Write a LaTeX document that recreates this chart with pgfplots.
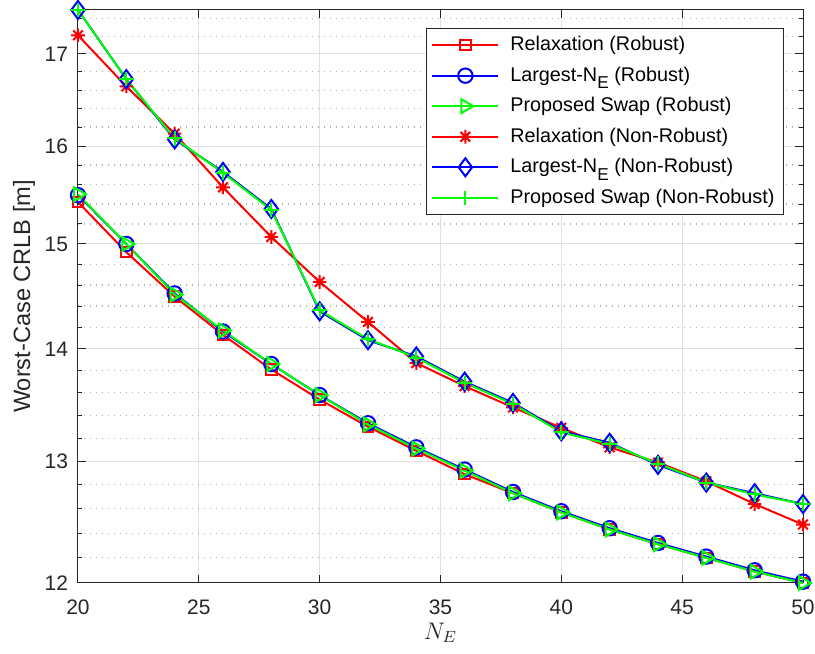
\documentclass[border=0pt]{standalone}
\usepackage{fontspec}
\setmainfont{Liberation Sans}
\usepackage{pgfplots}
\usepackage{pgfplotstable}
\pgfplotsset{compat=1.18}

% eight-armed asterisk (plus and cross)
\pgfdeclareplotmark{star8}{%
  \pgfpathmoveto{\pgfqpoint{-\pgfplotmarksize}{0pt}}%
  \pgfpathlineto{\pgfqpoint{\pgfplotmarksize}{0pt}}%
  \pgfpathmoveto{\pgfqpoint{0pt}{-\pgfplotmarksize}}%
  \pgfpathlineto{\pgfqpoint{0pt}{\pgfplotmarksize}}%
  \pgfpathmoveto{\pgfqpoint{-0.707\pgfplotmarksize}{-0.707\pgfplotmarksize}}%
  \pgfpathlineto{\pgfqpoint{0.707\pgfplotmarksize}{0.707\pgfplotmarksize}}%
  \pgfpathmoveto{\pgfqpoint{-0.707\pgfplotmarksize}{0.707\pgfplotmarksize}}%
  \pgfpathlineto{\pgfqpoint{0.707\pgfplotmarksize}{-0.707\pgfplotmarksize}}%
  \pgfusepathqstroke}

\definecolor{axgray}{rgb}{0.15,0.15,0.15}
\definecolor{mred}{rgb}{1,0,0}
\definecolor{mblue}{rgb}{0,0,1}
\definecolor{mgreen}{rgb}{0,1,0}

% subscript E as set in the legend
\newcommand{\subE}{\raisebox{-3.6pt}{\fontsize{8.6}{9}\selectfont E}}

% robust designs
\pgfplotstableread{
NE CRLB
20 15.42
22 14.92
24 14.49
26 14.13
28 13.81
30 13.54
32 13.30
34 13.09
36 12.89
38 12.73
40 12.57
42 12.43
44 12.31
46 12.20
48 12.09
50 12.00
}\relaxRob
\pgfplotstableread{
NE CRLB
20 15.49
22 15.00
24 14.52
26 14.16
28 13.86
30 13.58
32 13.33
34 13.12
36 12.93
38 12.74
40 12.58
42 12.44
44 12.32
46 12.21
48 12.10
50 12.01
}\largestRob
\pgfplotstableread{
NE CRLB
20 15.50
22 15.00
24 14.51
26 14.17
28 13.86
30 13.58
32 13.32
34 13.11
36 12.92
38 12.73
40 12.57
42 12.43
44 12.31
46 12.20
48 12.09
50 12.00
}\swapRob
% non-robust designs
\pgfplotstableread{
NE CRLB
20 17.21
22 16.64
24 16.13
26 15.57
28 15.07
30 14.63
32 14.25
34 13.87
36 13.66
38 13.47
40 13.29
42 13.12
44 12.99
46 12.83
48 12.64
50 12.47
}\relaxNR
\pgfplotstableread{
NE CRLB
20 17.50
22 16.72
24 16.07
26 15.73
28 15.35
30 14.35
32 14.08
34 13.93
36 13.70
38 13.51
40 13.26
42 13.16
44 12.97
46 12.82
48 12.73
50 12.64
}\largestNR
\pgfplotstableread{
NE CRLB
20 17.50
22 16.72
24 16.08
26 15.72
28 15.34
30 14.36
32 14.09
34 13.92
36 13.69
38 13.50
40 13.25
42 13.15
44 12.98
46 12.82
48 12.72
50 12.64
}\swapNR

\begin{document}
\begin{tikzpicture}
\useasboundingbox (-39pt,-35.5pt) rectangle (368.5pt,291.5pt);
\begin{axis}[
  scale only axis,
  width=362.5pt, height=286.5pt,
  xmin=20, xmax=50, ymin=12, ymax=17.5,
  ymode=log,
  enlargelimits=false,
  clip=false,
  xtick={20,25,...,50},
  ytick={12,13,14,15,16,17},
  yticklabels={12,13,14,15,16,17},
  minor ytick={12.2,12.4,12.6,12.8,13.2,13.4,13.6,13.8,14.2,14.4,14.6,14.8,15.2,15.4,15.6,15.8,16.2,16.4,16.6,16.8,17.2,17.4},
  grid=both,
  major grid style={line width=0.5pt, draw=black!12},
  minor grid style={line width=0.6pt, draw=black!30, dash pattern=on 0.6pt off 2.4pt},
  axis line style={line width=0.5pt, draw=axgray},
  tick style={line width=0.5pt, draw=axgray},
  major tick length=4pt,
  minor tick length=2pt,
  tick align=inside,
  /pgf/number format/assume math mode=true,
  tick label style={font=\fontsize{10.5}{12}\selectfont, text=axgray},
  xticklabel style={yshift=-5pt},
  yticklabel style={xshift=-1.5pt},
  xlabel={$N_E$},
  xlabel style={font=\fontsize{12}{14}\selectfont, text=axgray, at={(axis description cs:0.5,0)}, anchor=center, yshift=-25pt},
  ylabel={Worst-Case CRLB [m]},
  ylabel style={font=\fontsize{11.8}{14}\selectfont, text=axgray, at={(axis description cs:-0.0745,0.5)}, anchor=center},
  legend image code/.code={%
    \draw[mark repeat=2, mark phase=2, #1] plot coordinates {(0pt,0pt) (16.5pt,0pt) (33pt,0pt)};},
  legend cell align=left,
  legend style={
    at={(rel axis cs:1,1)}, anchor=north east, xshift=-9.5pt, yshift=-9pt,
    font=\fontsize{9.9}{11}\selectfont, text=black,
    draw=axgray, line width=0.5pt, fill=white,
    inner xsep=2.5pt, inner ysep=2pt,
    column sep=3.5pt, row sep=2.6pt,
  },
  every axis plot/.append style={line width=1pt},
]
\addplot[color=mred, mark=square, mark size=2.6pt, mark options={solid}] table[x=NE, y=CRLB] {\relaxRob};
\addlegendentry{Relaxation (Robust)}
\addplot[color=mblue, mark=o, mark size=3.6pt, mark options={solid}] table[x=NE, y=CRLB] {\largestRob};
\addlegendentry{Largest-N\subE{} (Robust)}
\addplot[color=mgreen, mark=triangle, mark size=4pt, mark options={solid, rotate=-90}] table[x=NE, y=CRLB] {\swapRob};
\addlegendentry{Proposed Swap (Robust)}
\addplot[color=mred, mark=star8, mark size=3.4pt, mark options={solid}] table[x=NE, y=CRLB] {\relaxNR};
\addlegendentry{Relaxation (Non-Robust)}
\addplot[color=mblue, mark=diamond, mark size=4.5pt, mark options={solid}] table[x=NE, y=CRLB] {\largestNR};
\addlegendentry{Largest-N\subE{} (Non-Robust)}
\addplot[color=mgreen, mark=+, mark size=3.6pt, mark options={solid}] table[x=NE, y=CRLB] {\swapNR};
\addlegendentry{Proposed Swap (Non-Robust)}
\end{axis}
\end{tikzpicture}
\end{document}
